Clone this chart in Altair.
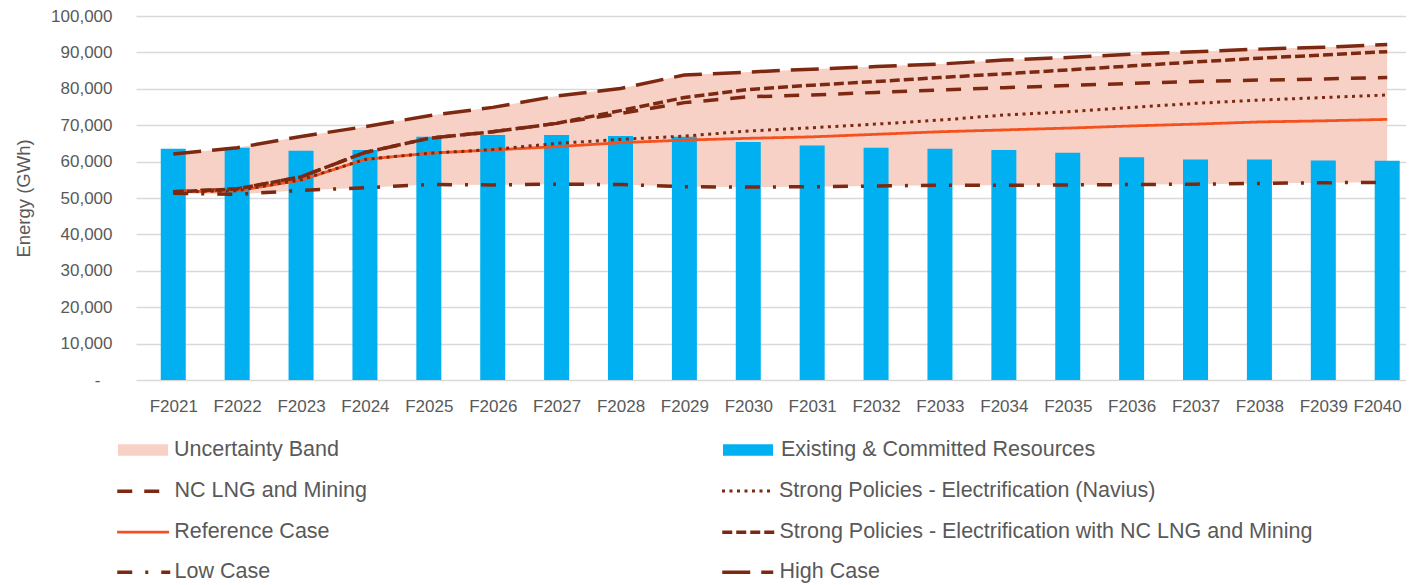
import altair as alt
import pandas as pd

# ---------------- data (GWh) ----------------
years = list(range(2021, 2041))

existing_committed = [63500, 63800, 63000, 63200, 66800, 67300, 67300, 67000, 66800, 65400,
                      64400, 63800, 63500, 63200, 62400, 61200, 60600, 60600, 60300, 60200]
high_case = [62100, 63800, 66900, 69600, 72600, 74900, 78000, 80100, 83800, 84600,
             85400, 86100, 86800, 87900, 88600, 89500, 90200, 90900, 91400, 92200]
strong_nc = [51700, 52500, 55800, 62500, 66400, 68200, 70500, 74000, 77600, 79800,
             81000, 82000, 83100, 84100, 85200, 86300, 87400, 88400, 89300, 90200]
nc_lng = [51700, 52500, 55800, 62500, 66400, 68200, 70500, 73200, 76200, 77800,
          78300, 79000, 79700, 80300, 80900, 81500, 82000, 82400, 82700, 83100]
navius = [51700, 52000, 55000, 60600, 62300, 63300, 65000, 66100, 67000, 68400,
          69300, 70300, 71400, 72800, 73700, 74900, 76000, 76900, 77600, 78300]
reference = [51700, 52000, 54900, 60600, 62300, 63200, 64100, 65200, 65900, 66400,
             66800, 67500, 68200, 68700, 69200, 69800, 70300, 70900, 71200, 71600]
low_case = [51300, 51000, 52100, 52800, 53700, 53600, 53800, 53700, 53100, 53000,
            53100, 53300, 53500, 53500, 53600, 53700, 53800, 54000, 54200, 54300]

y_ticks = list(range(0, 100001, 10000))

# ---------------- style ----------------
FONT = "Liberation Sans"
TEXT = "#595959"
GRID = "#d9d9d9"
DARK = "#7d2811"
ORANGE = "#f4511e"
BAND = "#f7d1c6"
BLUE = "#00b0f0"

PLOT_LEFT = 136  # page px of plot origin
PLOT_TOP = 16
RECT = "M-1,-0.23L1,-0.23L1,0.23L-1,0.23Z"


def legend(sym_left, row_center, width, sw, text_start, shape="stroke"):
    d = width + sw
    lx = sym_left - sw / 2 - PLOT_LEFT
    ly = row_center - PLOT_TOP - d / 2
    lo = text_start - PLOT_LEFT - (lx + d)
    return alt.Legend(orient="none", legendX=lx, legendY=ly, title=None,
                      labelFont=FONT, labelFontSize=21.5, labelColor=TEXT,
                      labelOffset=lo, symbolType=shape, symbolSize=width ** 2,
                      symbolStrokeWidth=sw, padding=0, labelLimit=900)


x_enc = alt.X("year:Q",
              scale=alt.Scale(domain=[2020.495, 2040.216], nice=False, zero=False),
              axis=alt.Axis(values=years, labelExpr="'F' + datum.value", title=None,
                            grid=False, domain=False, ticks=False, labelPadding=18,
                            labelFont=FONT, labelFontSize=17, labelColor=TEXT,
                            labelOverlap=False, labelFlush=20, labelFlushOffset=14))
y_scale = alt.Scale(domain=[0, 100000], nice=False)
y_axis = alt.Axis(values=y_ticks, title="Energy (GWh)",
                  labelExpr="datum.value == 0 ? '-' : format(datum.value, ',')",
                  grid=True, gridColor=GRID, gridWidth=1.3, domain=False, ticks=False,
                  labelPadding={"condition": {"test": "datum.value == 0", "value": 36},
                                "value": 24},
                  labelFont=FONT, labelFontSize=17, labelColor=TEXT,
                  titleFont=FONT, titleFontSize=18.5, titleColor=TEXT,
                  titleFontWeight="normal", titlePadding=17)

# ---------------- layers ----------------
band_df = pd.DataFrame({"year": years, "low": low_case, "high": high_case,
                        "series": "Uncertainty Band"})
band = alt.Chart(band_df).mark_area(opacity=1).encode(
    x=x_enc,
    y=alt.Y("low:Q", scale=y_scale, axis=y_axis),
    y2="high:Q",
    fill=alt.Fill("series:N", scale=alt.Scale(domain=["Uncertainty Band"], range=[BAND]),
                  legend=legend(118, 450, 50, 0, 174, RECT)),
)

bar_df = pd.DataFrame({"year": years, "value": existing_committed,
                       "series": "Existing & Committed Resources"})
bars = alt.Chart(bar_df).mark_bar(size=25).encode(
    x=x_enc,
    y=alt.Y("value:Q", scale=y_scale, axis=y_axis),
    color=alt.Color("series:N",
                    scale=alt.Scale(domain=["Existing & Committed Resources"], range=[BLUE]),
                    legend=legend(723, 450, 50, 0, 781, RECT)),
)

line_specs = [
    # name, values, color, dash, width, legend (sym_left, row_center, sym_width, text_start)
    ("NC LNG and Mining", nc_lng, DARK, [15, 12], 3.5, (117, 491, 44, 174)),
    ("Reference Case", reference, ORANGE, [1, 0], 2.8, (117, 532, 52, 174)),
    ("Low Case", low_case, DARK, [15, 13, 3, 13], 3.5, (117, 572, 53, 174)),
    ("Strong Policies - Electrification (Navius)", navius, DARK, [3, 4.5], 3, (722, 491, 52, 779)),
    ("Strong Policies - Electrification with NC LNG and Mining", strong_nc, DARK, [10, 4], 3.5, (722, 532, 54, 779)),
    ("High Case", high_case, DARK, [28, 11], 3.5, (722, 572, 51, 779)),
]

layers = [band, bars]
for name, vals, col, dash, w, (sl, rc, sw_, ts) in line_specs:
    df = pd.DataFrame({"year": years, "value": vals, "series": name})
    layers.append(
        alt.Chart(df).mark_line(color=col, strokeWidth=w).encode(
            x=x_enc,
            y=alt.Y("value:Q", scale=y_scale, axis=y_axis),
            strokeDash=alt.StrokeDash("series:N",
                                      scale=alt.Scale(domain=[name], range=[dash]),
                                      legend=legend(sl, rc, sw_, w, ts)),
        )
    )

chart = alt.layer(*layers).resolve_scale(
    color="independent", fill="independent", strokeDash="independent"
).properties(
    width=1270, height=364,
    autosize=alt.AutoSizeParams(type="none"),
    padding={"left": 128, "top": 8, "right": 0, "bottom": 205},
    background="white",
).configure_view(stroke=None)

chart.save("out.html", embed_options={"renderer": "svg", "actions": False})
